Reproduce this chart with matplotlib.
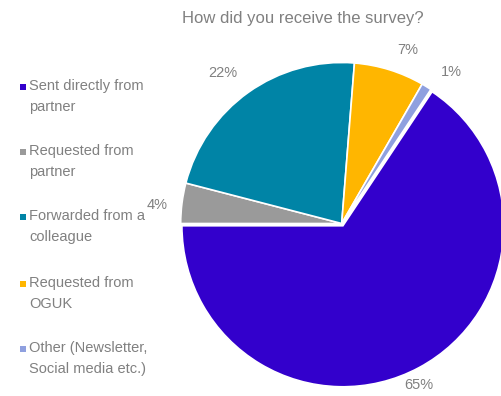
import matplotlib
matplotlib.use("Agg")
import matplotlib.pyplot as plt
from matplotlib.patches import Rectangle
import numpy as np

plt.rcParams['font.family'] = ['Liberation Sans', 'DejaVu Sans']

categories = ["Sent directly from\npartner",
              "Requested from\npartner",
              "Forwarded from a\ncolleague",
              "Requested from\nOGUK",
              "Other (Newsletter,\nSocial media etc.)"]
percent = [65, 4, 22, 7, 1]
colors = ["#3300CC", "#9A9A9A", "#0084A6", "#FFB600", "#8FA0DF"]
title = "How did you receive the survey?"

text_color = "#808080"

W, H = 502, 396
fig = plt.figure(figsize=(W / 100, H / 100), dpi=100)

# pie axes: centre and radius in pixels
cx, cy, r = 341.7, 223.5, 161.0
ax = fig.add_axes([(cx - r) / W, (H - cy - r) / H, 2 * r / W, 2 * r / H])

total = sum(percent)
start = 180 + percent[0] / total * 360
explode = [0.016, 0, 0, 0, 0]
wedges, _ = ax.pie(percent, colors=colors, startangle=start, counterclock=False,
                   radius=1, explode=explode,
                   wedgeprops=dict(edgecolor="white", linewidth=1.2))
for w in wedges:
    w.set_clip_on(False)
ax.set_xlim(-1, 1)
ax.set_ylim(-1, 1)
ax.set_aspect("equal")
ax.axis("off")

# percentage labels around the pie
label_dist = [1.11, 1.15, 1.19, 1.15, 1.16]
label_shift = [-2.5, 1.5, 3.0, -3.5, -4.0]
for w, v, d, s in zip(wedges, percent, label_dist, label_shift):
    mid = np.deg2rad((w.theta1 + w.theta2) / 2 + s)
    ax.text(d * np.cos(mid), d * np.sin(mid), f"{v}%", ha="center", va="center",
            fontsize=10.5, color=text_color, clip_on=False)

fig.text(302.5 / W, 1 - 18 / H, title, ha="center", va="center",
         fontsize=12, color=text_color)

# legend drawn at the left
entry_y = [87, 152, 217, 284, 349]
for lab, col, y in zip(categories, colors, entry_y):
    fig.patches.append(Rectangle((20 / W, 1 - (y + 3) / H), 6 / W, 6 / H,
                                 transform=fig.transFigure, facecolor=col,
                                 edgecolor="none"))
    fig.text(29 / W, 1 - (y - 8) / H, lab, ha="left", va="top", fontsize=10.5,
             color=text_color, linespacing=1.65)

fig.savefig("out.png", dpi=100)
